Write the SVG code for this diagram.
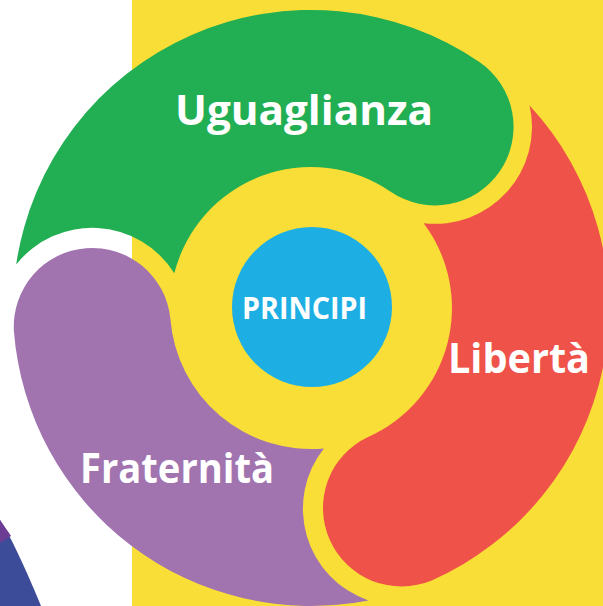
<svg xmlns="http://www.w3.org/2000/svg" width="603" height="606" viewBox="0 0 603 606">
  <style>
    .label { font-family: "Open Sans", "Liberation Sans", sans-serif; font-weight: 700; fill: #ffffff; text-anchor: middle; }
    .big { font-size: 41px; }
    .center { font-size: 30px; }
  </style>
  <g id="background">
    <rect x="0" y="0" width="603" height="606" fill="#ffffff"/>
    <rect x="132" y="0" width="471" height="606" fill="#f9de37"/>
  </g>
  <g id="decoration">
    <path d="M0,520 C8,532 22,560 41,606 L0,606 Z" fill="#3d4c99"/>
    <path d="M0,520 C4,526 8,531 11,536 L0,543 Z" fill="#6d3d94"/>
  </g>
  <g id="node-uguaglianza">
    <path d="M16.2,264.5 A298,298 0 0 1 479.4,62.1 A78.5,78.5 0 0 1 390.7,191.7 A141,141 0 0 0 174.3,273.3 A97,97 0 0 0 16.2,264.5 Z" fill="#22ae52"/>
    <text class="label big" x="304" y="125" textLength="258" lengthAdjust="spacingAndGlyphs">Uguaglianza</text>
  </g>
  <g id="node-liberta">
    <path d="M529.6,105.5 A298,298 0 0 1 431.7,580.4 A78.5,78.5 0 0 1 368.1,436.9 A141,141 0 0 0 423.6,223.2 A97,97 0 0 0 529.6,105.5 Z" fill="#ef5249"/>
    <text class="label big" x="519" y="373" textLength="142" lengthAdjust="spacingAndGlyphs">Libertà</text>
  </g>
  <g id="node-fraternita">
    <path d="M368.4,600.4 A298,298 0 0 1 13.9,330.9 A78.5,78.5 0 0 1 170.4,318.8 A141,141 0 0 0 323.9,448.4 A97,97 0 0 0 368.4,600.4 Z" fill="#a174b0"/>
    <text class="label big" x="177" y="483" textLength="194" lengthAdjust="spacingAndGlyphs">Fraternità</text>
  </g>
  <g id="node-principi">
    <circle cx="312" cy="307" r="80" fill="#1daee3"/>
    <text class="label center" x="304.5" y="319" textLength="125" lengthAdjust="spacingAndGlyphs">PRINCIPI</text>
  </g>
</svg>
